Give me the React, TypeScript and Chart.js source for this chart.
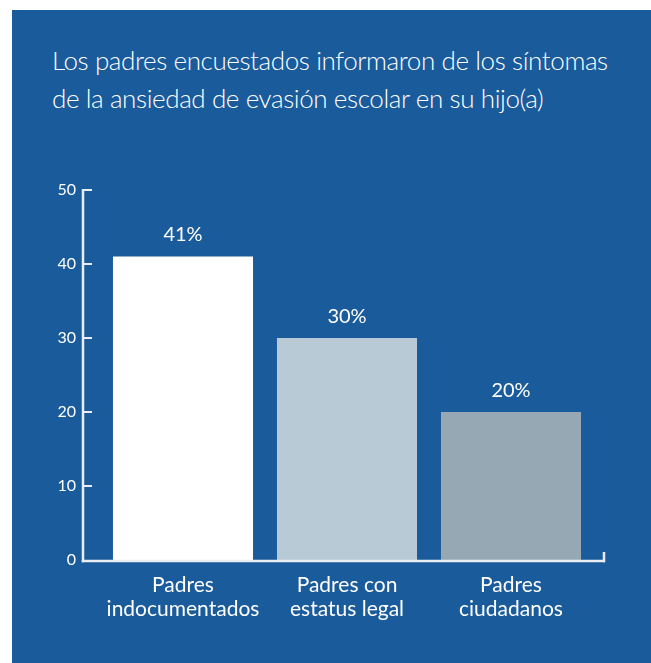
import React, { useEffect, useRef } from "react";
import { Chart, registerables } from "chart.js";

Chart.register(...registerables);

const TITLE_LINES = [
  "Los padres encuestados informaron de los síntomas",
  "de la ansiedad de evasión escolar en su hijo(a)",
];
const CATEGORIES: string[][] = [
  ["Padres", "indocumentados"],
  ["Padres con", "estatus legal"],
  ["Padres", "ciudadanos"],
];
const VALUES = [41, 30, 20];
const BAR_COLORS = ["#ffffff", "#b8cad6", "#95a8b4"];
const Y_TICKS = [0, 10, 20, 30, 40, 50];

const BG = "#1a5b9b";
const LINE = "#e8eef4";
const FONT = "Lato, 'Open Sans', sans-serif";

const axisPlugin = {
  id: "customAxes",
  afterDatasetsDraw(chart: any) {
    const { ctx, chartArea, scales } = chart;
    const y = scales.y;
    const ax = chartArea.left - 18;
    const y0 = y.getPixelForValue(0) + 1;
    const yTop = y.getPixelForValue(50);
    const xRight = chartArea.right + 12;
    ctx.save();
    ctx.strokeStyle = LINE;
    ctx.lineCap = "butt";
    // y axis
    ctx.lineWidth = 2.5;
    ctx.beginPath();
    ctx.moveTo(ax, yTop - 1);
    ctx.lineTo(ax, y0 + 1.25);
    ctx.stroke();
    // ticks
    ctx.lineWidth = 2;
    Y_TICKS.forEach((v) => {
      if (v === 0) return;
      const py = y.getPixelForValue(v);
      ctx.beginPath();
      ctx.moveTo(ax, py);
      ctx.lineTo(ax + 9, py);
      ctx.stroke();
    });
    // x axis
    ctx.lineWidth = 2.5;
    ctx.beginPath();
    ctx.moveTo(ax - 1.25, y0);
    ctx.lineTo(xRight, y0);
    ctx.stroke();
    ctx.beginPath();
    ctx.moveTo(xRight - 1, y0 + 1.25);
    ctx.lineTo(xRight - 1, y0 - 9);
    ctx.stroke();
    // value labels
    const meta = chart.getDatasetMeta(0);
    ctx.fillStyle = "#ffffff";
    ctx.font = `20px ${FONT}`;
    ctx.textAlign = "center";
    ctx.textBaseline = "alphabetic";
    meta.data.forEach((bar: any, i: number) => {
      ctx.fillText(`${VALUES[i]}%`, bar.x, bar.y - 15.5);
    });
    ctx.restore();
  },
};

export default function App() {
  const ref = useRef<HTMLCanvasElement>(null);
  useEffect(() => {
    if (!ref.current) return;
    const chart = new Chart(ref.current, {
      type: "bar",
      data: {
        labels: CATEGORIES,
        datasets: [
          {
            data: VALUES,
            backgroundColor: BAR_COLORS,
            borderWidth: 0,
            barPercentage: 0.854,
            categoryPercentage: 1,
          },
        ],
      },
      options: {
        responsive: false,
        animation: false,
        layout: { padding: { left: 19, right: 58, top: 180, bottom: 23 } },
        plugins: {
          legend: { display: false },
          tooltip: { enabled: false },
          title: { display: false },
        },
        scales: {
          x: {
            grid: { display: false, drawTicks: false },
            border: { display: false },
            ticks: {
              color: "#ffffff",
              font: { family: FONT, size: 21, lineHeight: "24px" } as any,
              padding: 13,
              maxRotation: 0,
              autoSkip: false,
            },
            afterFit: (s: any) => {
              s.height = 80;
            },
          },
          y: {
            min: 0,
            max: 50,
            grid: { display: false, drawTicks: false },
            border: { display: false },
            ticks: {
              stepSize: 10,
              color: "#ffffff",
              font: { family: FONT, size: 16 },
              padding: 25,
            },
            afterFit: (s: any) => {
              s.width = 70;
            },
          },
        },
      },
      plugins: [axisPlugin],
    });
    return () => chart.destroy();
  }, []);

  return (
    <div
      style={{
        position: "fixed",
        left: 12,
        top: 10,
        width: 639,
        height: 653,
        background: BG,
        overflow: "hidden",
      }}
    >
      <div
        style={{
          position: "absolute",
          left: 40,
          top: 31,
          color: "#ffffff",
          fontFamily: FONT,
          fontWeight: 300,
          fontSize: 26,
          letterSpacing: "-0.4px",
          lineHeight: "38px",
          whiteSpace: "nowrap",
        }}
      >
        {TITLE_LINES[0]}
        <br />
        {TITLE_LINES[1]}
      </div>
      <canvas
        ref={ref}
        width={639}
        height={653}
        style={{ position: "absolute", left: 0, top: 0 }}
      />
    </div>
  );
}
